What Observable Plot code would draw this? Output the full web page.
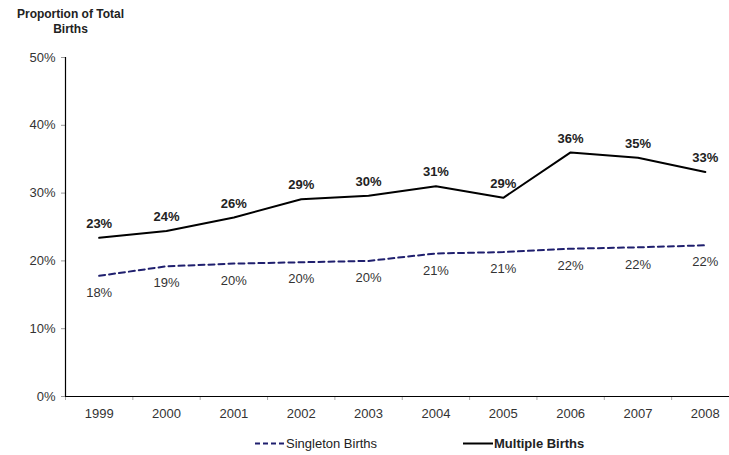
<!DOCTYPE html>
<html>
<head>
<meta charset="utf-8">
<script src="https://cdn.jsdelivr.net/npm/d3@7"></script>
<script src="https://cdn.jsdelivr.net/npm/@observablehq/plot@0.6"></script>
<style>
  html, body { margin: 0; padding: 0; background: white; }
  body { width: 729px; height: 455px; position: relative; overflow: hidden; font-family: "Liberation Sans", Arial, sans-serif; }
  #title { position: absolute; left: 0; top: 7px; width: 141px; text-align: center; font-weight: bold; font-size: 12px; line-height: 15px; color: #222; }
  #legend { position: absolute; top: 436px; left: 0; width: 729px; font-size: 13px; color: #222; }
  .item { position: absolute; top: 0; display: flex; align-items: center; height: 15px; }
  #chart { position: absolute; left: 0; top: 0; }
</style>
</head>
<body>
<div id="chart"></div>
<div id="title">Proportion of Total<br>Births</div>
<div id="legend"></div>
<script>
const years = [1999, 2000, 2001, 2002, 2003, 2004, 2005, 2006, 2007, 2008];
const singleton = [0.178, 0.192, 0.196, 0.198, 0.200, 0.211, 0.213, 0.218, 0.220, 0.223];
const multiple = [0.234, 0.244, 0.264, 0.291, 0.296, 0.310, 0.293, 0.360, 0.352, 0.331];
const yTicks = [0, 0.1, 0.2, 0.3, 0.4, 0.5];
const seriesNames = ["Singleton Births", "Multiple Births"];
const seriesColors = ["#1f1f6e", "#000000"];

const sData = years.map((y, i) => ({year: y, value: singleton[i]}));
const mData = years.map((y, i) => ({year: y, value: multiple[i]}));
const boundaries = years.map(y => y - 0.5).concat([years[years.length - 1] + 0.5]);
const pct = d3.format(".0%");

const chart = Plot.plot({
  width: 729, height: 455,
  marginLeft: 65, marginRight: -10, marginTop: 57, marginBottom: 59,
  x: {type: "linear", domain: [1998.5, 2008.5], range: [65, 738.5], label: null},
  y: {domain: [0, 0.5], range: [396, 57], label: null},
  style: {fontFamily: "Liberation Sans, Arial, sans-serif", background: "white", overflow: "hidden"},
  marks: [
    Plot.axisY({ticks: yTicks, tickFormat: pct, tickSize: 4, tickPadding: 6, fontSize: 13, stroke: "#999", fill: "#333", label: null}),
    Plot.axisX({ticks: boundaries, tickFormat: () => "", tickSize: 4, stroke: "#aaa", label: null}),
    Plot.axisX({ticks: years, tickFormat: d => String(d), tickSize: 0, tickPadding: 12, fontSize: 13, fill: "#333", label: null}),
    Plot.ruleX([1998.5], {y1: 0, y2: 0.5, stroke: "#000", strokeWidth: 1.2}),
    Plot.ruleY([0], {stroke: "#000", strokeWidth: 1.2}),
    Plot.line(sData, {x: "year", y: "value", stroke: seriesColors[0], strokeWidth: 2, strokeDasharray: "6,4"}),
    Plot.line(mData, {x: "year", y: "value", stroke: seriesColors[1], strokeWidth: 2}),
    Plot.text(sData, {x: "year", y: "value", text: d => pct(d.value), dy: 17, fontSize: 13, fill: "#333"}),
    Plot.text(mData, {x: "year", y: "value", text: d => pct(d.value), dy: -14, fontSize: 13, fontWeight: "bold", fill: "#222"})
  ]
});
document.getElementById("chart").appendChild(chart);

// legend
const legend = document.getElementById("legend");
const items = [
  {left: 255, name: seriesNames[0], color: seriesColors[0], dash: "5,3", bold: false},
  {left: 463, name: seriesNames[1], color: seriesColors[1], dash: null, bold: true}
];
for (const it of items) {
  const div = document.createElement("div");
  div.className = "item";
  div.style.left = it.left + "px";
  const svg = d3.create("svg").attr("width", 31).attr("height", 15);
  svg.append("line").attr("x1", 0).attr("x2", 30).attr("y1", 7.5).attr("y2", 7.5)
    .attr("stroke", it.color).attr("stroke-width", 2)
    .attr("stroke-dasharray", it.dash);
  div.appendChild(svg.node());
  const span = document.createElement("span");
  span.textContent = it.name;
  if (it.bold) span.style.fontWeight = "bold";
  div.appendChild(span);
  legend.appendChild(div);
}
</script>
</body>
</html>
